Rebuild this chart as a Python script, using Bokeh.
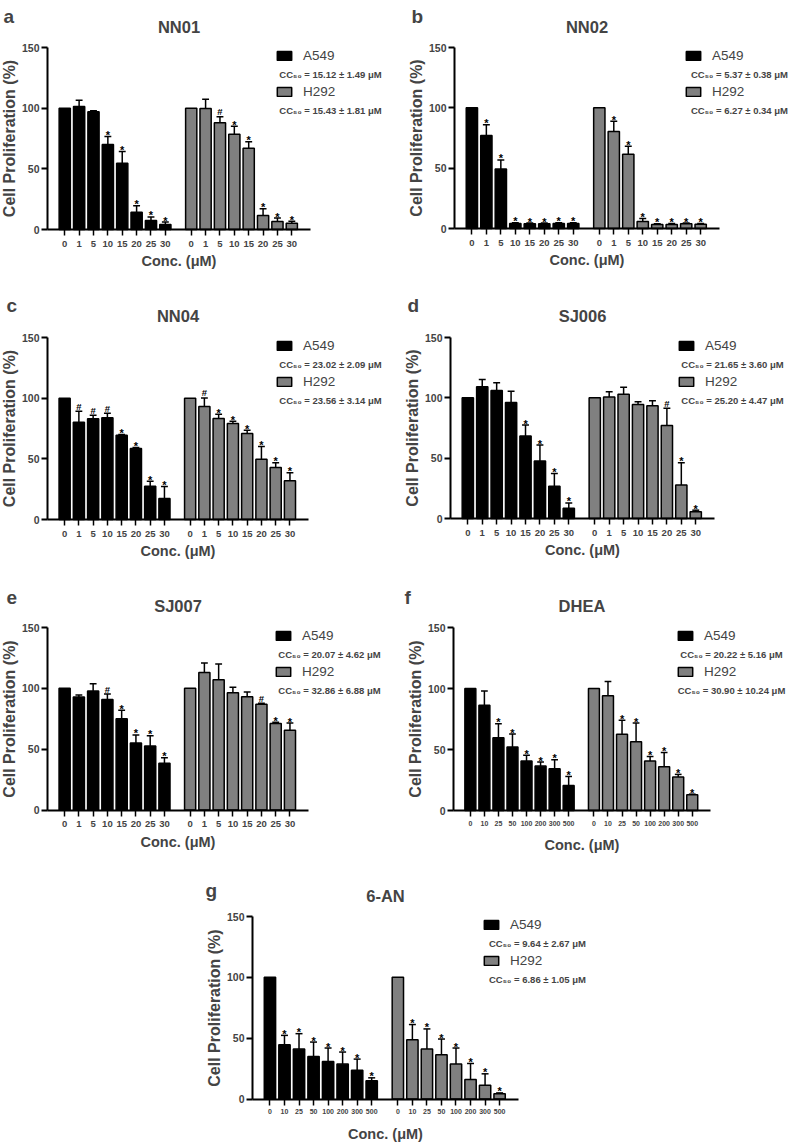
from bokeh.plotting import figure
from bokeh.layouts import column, row
from bokeh.models import (ColumnDataSource, FixedTicker, Label, Legend,
                          LegendItem, Range1d)
from bokeh.core.properties import value
from bokeh.embed import file_html
from bokeh.resources import INLINE

FONT = "Liberation Sans"
BAR_BLACK = "#000000"
BAR_GREY = "#808080"

# concentration labels (µM)
conc_small = ["0", "1", "5", "10", "15", "20", "25", "30"]
conc_large = ["0", "10", "25", "50", "100", "200", "300", "500"]

# NN01
nn01_a549_mean = [100, 101.4, 97.0, 70.0, 54.5, 14.3, 7.4, 4.1]
nn01_a549_sd = [0, 5.2, 0.8, 6.6, 9.7, 5.3, 3.0, 2.0]
nn01_a549_sig = ["", "", "", "*", "*", "*", "*", "*"]
nn01_h292_mean = [100, 99.7, 87.9, 78.5, 66.9, 11.6, 6.6, 5.2]
nn01_h292_sd = [0, 7.7, 5.0, 6.6, 5.5, 5.5, 2.8, 1.7]
nn01_h292_sig = ["", "", "#", "*", "*", "*", "*", "*"]

# NN02
nn02_a549_mean = [100, 77.0, 49.3, 4.2, 4.0, 4.0, 4.2, 4.2]
nn02_a549_sd = [0, 9.0, 7.5, 0.5, 0.5, 0.5, 0.5, 0.5]
nn02_a549_sig = ["", "*", "*", "*", "*", "*", "*", "*"]
nn02_h292_mean = [100, 80.3, 61.5, 5.8, 3.3, 3.3, 3.9, 3.6]
nn02_h292_sd = [0, 8.6, 6.6, 2.5, 0.6, 0.8, 0.6, 0.6]
nn02_h292_sig = ["", "*", "*", "*", "*", "*", "*", "*"]

# NN04
nn04_a549_mean = [100, 80.2, 83.0, 83.8, 69.5, 58.5, 27.5, 17.3]
nn04_a549_sd = [0, 9.0, 3.0, 3.8, 0.6, 0.8, 4.1, 9.9]
nn04_a549_sig = ["", "#", "#", "#", "*", "*", "*", "*"]
nn04_h292_mean = [100, 93.1, 83.2, 79.1, 70.9, 49.7, 42.9, 31.9]
nn04_h292_sd = [0, 7.1, 3.6, 1.9, 2.7, 10.4, 3.8, 6.6]
nn04_h292_sig = ["", "#", "*", "*", "*", "*", "*", "*"]

# SJ006
sj006_a549_mean = [100, 109.1, 106.1, 96.1, 68.3, 47.7, 26.7, 8.5]
sj006_a549_sd = [0, 6.0, 6.3, 9.4, 9.1, 13.2, 10.5, 4.4]
sj006_a549_sig = ["", "", "", "", "*", "*", "*", "*"]
sj006_h292_mean = [100, 100.6, 103.0, 94.5, 93.4, 77.1, 27.8, 5.5]
sj006_h292_sd = [0, 4.4, 5.8, 2.2, 4.1, 14.3, 18.5, 1.4]
sj006_h292_sig = ["", "", "", "", "", "#", "*", "*"]

# SJ007
sj007_a549_mean = [100, 92.9, 97.8, 90.9, 74.9, 55.1, 52.6, 38.4]
sj007_a549_sd = [0, 1.6, 6.0, 4.4, 7.1, 6.6, 8.5, 4.6]
sj007_a549_sig = ["", "", "", "#", "*", "*", "*", "*"]
sj007_h292_mean = [100, 113.1, 107.1, 96.4, 93.1, 86.9, 71.0, 65.5]
sj007_h292_sd = [0, 7.7, 12.9, 4.4, 3.8, 0.8, 1.1, 6.0]
sj007_h292_sig = ["", "", "", "", "", "#", "*", "*"]

# DHEA
dhea_a549_mean = [100, 86.2, 59.7, 52.0, 40.5, 36.4, 34.2, 20.5]
dhea_a549_sd = [0, 11.8, 11.5, 10.7, 4.7, 3.3, 7.4, 7.4]
dhea_a549_sig = ["", "", "*", "*", "*", "*", "*", "*"]
dhea_h292_mean = [100, 94.1, 62.4, 56.4, 40.5, 35.9, 27.4, 12.9]
dhea_h292_sd = [0, 11.6, 11.5, 15.3, 3.8, 11.7, 2.2, 0.5]
dhea_h292_sig = ["", "", "*", "*", "*", "*", "*", "*"]

# 6-AN
an6_a549_mean = [100, 44.6, 41.0, 35.0, 30.9, 28.7, 23.7, 14.9]
an6_a549_sd = [0, 7.7, 12.7, 11.8, 11.0, 9.9, 9.1, 2.5]
an6_a549_sig = ["", "*", "*", "*", "*", "*", "*", "*"]
an6_h292_mean = [100, 48.8, 41.0, 36.4, 28.7, 16.0, 11.3, 4.4]
an6_h292_sd = [0, 12.4, 16.6, 12.9, 13.2, 13.2, 9.4, 0.6]
an6_h292_sig = ["", "*", "*", "*", "*", "*", "*", "*"]

# CC50 values (µM)
cc50 = {
    "NN01": ("15.12 ± 1.49", "15.43 ± 1.81"),
    "NN02": ("5.37 ± 0.38", "6.27 ± 0.34"),
    "NN04": ("23.02 ± 2.09", "23.56 ± 3.14"),
    "SJ006": ("21.65 ± 3.60", "25.20 ± 4.47"),
    "SJ007": ("20.07 ± 4.62", "32.86 ± 6.88"),
    "DHEA": ("20.22 ± 5.16", "30.90 ± 10.24"),
    "6-AN": ("9.64 ± 2.67", "6.86 ± 1.05"),
}

X_LO, X_HI = -12, 171      # extent of the category axis
Y_LO, Y_HI = 0, 150        # extent of the value axis
GROUP2 = 88
STEP = 10
BAR_W = 7.8
CAP_HALF = 2.4


def make_panel(letter, title, conc, a549, h292, geo, tick_size):
    # geo: figure size and where the axes sit inside it (pixels)
    w, h = geo["size"]
    left, right, top, base = geo["axes"]
    sx = (X_HI - X_LO) / (right - left)
    sy = (Y_HI - Y_LO) / (base - top)
    x0 = X_LO - left * sx
    x1 = X_LO + (w - left) * sx
    y1 = Y_HI + top * sy
    y0 = Y_LO - (h - base) * sy

    p = figure(width=w, height=h, x_range=Range1d(x0, x1),
               y_range=Range1d(y0, y1), output_backend="svg",
               toolbar_location=None, min_border=0, min_border_left=0,
               min_border_right=0, min_border_top=0, min_border_bottom=0)
    p.outline_line_color = None
    p.xgrid.visible = False
    p.ygrid.visible = False

    def place(px, py):
        # pixel position in the figure -> data coordinates
        return x0 + px * sx, y1 - py * sy

    xs1 = [STEP * i for i in range(len(conc))]
    xs2 = [GROUP2 + STEP * i for i in range(len(conc))]

    bars = []
    for xs, (mean, sd, sig), color in ((xs1, a549, BAR_BLACK),
                                       (xs2, h292, BAR_GREY)):
        err = [m + s for m, s in zip(mean, sd)]
        src = ColumnDataSource(dict(x=xs, top=mean))
        r = p.vbar(x="x", top="top", bottom=0, width=BAR_W, source=src,
                   fill_color=color, line_color="black", line_width=1.5)
        bars.append(r)

        idx = [i for i, s in enumerate(sd) if s > 0]
        esrc = ColumnDataSource(dict(
            x=[xs[i] for i in idx], top=[mean[i] for i in idx],
            err=[err[i] for i in idx],
            l=[xs[i] - CAP_HALF for i in idx],
            r=[xs[i] + CAP_HALF for i in idx]))
        p.segment(x0="x", y0="top", x1="x", y1="err", source=esrc,
                  line_color="black", line_width=1.5)
        p.segment(x0="l", y0="err", x1="r", y1="err", source=esrc,
                  line_color="black", line_width=1.5)

        # significance marks just above each error cap
        for mark, size, lift in (("*", "11px", 1.5), ("#", "9.5px", 5.0)):
            ids = [i for i, s in enumerate(sig) if s == mark]
            if not ids:
                continue
            msrc = ColumnDataSource(dict(
                x=[xs[i] for i in ids],
                y=[err[i] + lift * sy for i in ids],
                t=[mark] * len(ids)))
            p.text(x="x", y="y", text="t", source=msrc,
                   text_font=value(FONT), text_font_style="bold",
                   text_font_size=size, text_align="center",
                   text_baseline="alphabetic", text_color="black")

    # axes drawn at fixed positions inside the canvas
    ya = p.yaxis[0]
    ya.fixed_location = X_LO
    ya.bounds = (Y_LO, Y_HI)
    ya.ticker = FixedTicker(ticks=[0, 50, 100, 150])
    ya.axis_label = "Cell Proliferation (%)"
    ya.axis_label_text_font = FONT
    ya.axis_label_text_font_size = "16px"
    ya.axis_label_text_font_style = "bold"
    ya.axis_label_standoff = 1
    ya.major_label_text_font = FONT
    ya.major_label_text_font_size = "10.5px"
    ya.major_label_text_font_style = "bold"
    ya.major_label_standoff = 2
    ya.major_tick_out = 6
    ya.major_tick_in = 0
    ya.minor_tick_line_color = None
    ya.axis_line_width = 2
    ya.major_tick_line_width = 2

    xa = p.xaxis[0]
    xa.fixed_location = Y_LO
    xa.bounds = (X_LO, X_HI)
    xa.ticker = FixedTicker(ticks=xs1 + xs2)
    xa.major_label_overrides = {x: c for x, c in zip(xs1 + xs2, conc + conc)}
    xa.axis_label = "Conc. (μM)"
    xa.axis_label_text_font = FONT
    xa.axis_label_text_font_size = "14.5px"
    xa.axis_label_text_font_style = "bold"
    xa.major_label_text_font = FONT
    xa.major_label_text_font_size = tick_size
    xa.major_label_text_font_style = "bold"
    xa.major_tick_out = 6
    xa.major_tick_in = 0
    xa.minor_tick_line_color = None
    xa.axis_line_width = 2
    xa.major_tick_line_width = 1.5
    if tick_size == "7px":
        xa.major_label_standoff = 4
        xa.axis_label_standoff = 8
    else:
        xa.major_label_standoff = 5
        xa.axis_label_standoff = 3

    lx, lb = geo["letter"]
    x, y = place(lx, lb)
    p.add_layout(Label(x=x, y=y, text=letter, text_font=FONT,
                       text_font_size="19px", text_font_style="bold",
                       text_align="left", text_baseline="alphabetic"))

    x, y = place((left + right) / 2, geo["title"])
    p.add_layout(Label(x=x, y=y, text=title, text_font=FONT,
                       text_font_size="16.5px", text_font_style="bold",
                       text_align="center", text_baseline="alphabetic"))

    lgx = left + geo["legend"]
    legend = Legend(items=[LegendItem(label="A549", renderers=[bars[0]]),
                           LegendItem(label="H292", renderers=[bars[1]])],
                    location=(lgx, h - (top + 53)), orientation="vertical",
                    glyph_width=18, glyph_height=11, label_height=17,
                    label_standoff=10, spacing=19, padding=0, margin=0,
                    border_line_color=None, background_fill_alpha=0,
                    label_text_font=FONT, label_text_font_size="13.5px")
    p.add_layout(legend)

    cc_a, cc_h = cc50[title]
    for txt, dy in ((cc_a, 27), (cc_h, 63)):
        x, y = place(lgx + 55, top + dy)
        p.add_layout(Label(x=x, y=y, text="CC₅₀ = " + txt + " μM",
                           text_font=FONT, text_font_size="9.5px",
                           text_font_style="bold", text_align="center",
                           text_baseline="alphabetic"))
    return p


pa = make_panel("a", "NN01", conc_small,
                (nn01_a549_mean, nn01_a549_sd, nn01_a549_sig),
                (nn01_h292_mean, nn01_h292_sd, nn01_h292_sig),
                dict(size=(394, 290), axes=(47, 310, 47, 229),
                     letter=(3, 15.5), title=26.5, legend=228), "9.5px")
pb = make_panel("b", "NN02", conc_small,
                (nn02_a549_mean, nn02_a549_sd, nn02_a549_sig),
                (nn02_h292_mean, nn02_h292_sd, nn02_h292_sig),
                dict(size=(394, 290), axes=(60, 325, 47, 228),
                     letter=(17, 15.5), title=26.5, legend=230), "9.5px")
pc = make_panel("c", "NN04", conc_small,
                (nn04_a549_mean, nn04_a549_sd, nn04_a549_sig),
                (nn04_h292_mean, nn04_h292_sd, nn04_h292_sig),
                dict(size=(394, 290), axes=(47, 308, 47, 229),
                     letter=(6, 15), title=25, legend=228), "9.5px")
pd_ = make_panel("d", "SJ006", conc_small,
                 (sj006_a549_mean, sj006_a549_sd, sj006_a549_sig),
                 (sj006_h292_mean, sj006_h292_sd, sj006_h292_sig),
                 dict(size=(394, 290), axes=(56, 320, 47, 228),
                      letter=(13, 15), title=25, legend=227), "9.5px")
pe = make_panel("e", "SJ007", conc_small,
                (sj007_a549_mean, sj007_a549_sd, sj007_a549_sig),
                (sj007_h292_mean, sj007_h292_sd, sj007_h292_sig),
                dict(size=(394, 290), axes=(47, 308, 47, 229.5),
                     letter=(6, 17), title=25, legend=227), "9.5px")
pf = make_panel("f", "DHEA", conc_large,
                (dhea_a549_mean, dhea_a549_sd, dhea_a549_sig),
                (dhea_h292_mean, dhea_h292_sd, dhea_h292_sig),
                dict(size=(394, 290), axes=(59, 316, 47, 230),
                     letter=(10, 17), title=25, legend=223), "7px")
pg = make_panel("g", "6-AN", conc_large,
                (an6_a549_mean, an6_a549_sd, an6_a549_sig),
                (an6_h292_mean, an6_h292_sd, an6_h292_sig),
                dict(size=(788, 273), axes=(252, 518, 46, 228.5),
                     letter=(205, 20), title=25, legend=230), "7px")

layout = column(row(pa, pb), row(pc, pd_), row(pe, pf), pg)

open("out.html", "w").write(file_html(layout, INLINE))
